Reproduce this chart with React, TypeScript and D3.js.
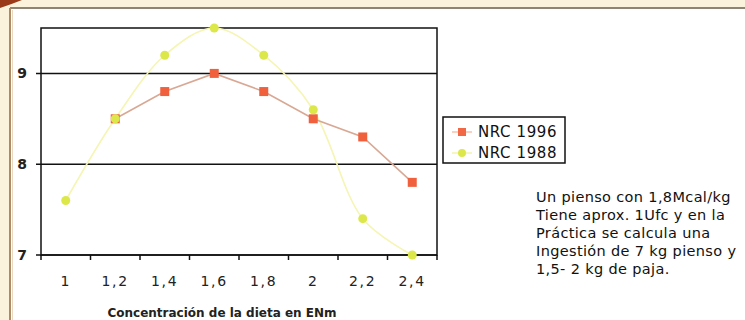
import React from "react";
import * as d3 from "d3";

const categories = ["1", "1,2", "1,4", "1,6", "1,8", "2", "2,2", "2,4"];
const nrc1996: (number | null)[] = [null, 8.5, 8.8, 9.0, 8.8, 8.5, 8.3, 7.8];
const nrc1988: number[] = [7.6, 8.5, 9.2, 9.5, 9.2, 8.6, 7.4, 7.0];
const yTicks = [7, 8, 9];
const seriesNames = ["NRC 1996", "NRC 1988"];
const note = [
  "Un pienso con 1,8Mcal/kg",
  "Tiene aprox. 1Ufc y en la",
  "Práctica se calcula una",
  "Ingestión de 7 kg pienso y",
  "1,5- 2 kg de paja.",
];
const xTitle = "Concentración de la dieta en ENm";

export default function App() {
  const W = 745, H = 320;
  const left = 41, right = 437, top = 28, bottom = 255;
  const x = d3.scaleBand<string>().domain(categories).range([left, right]);
  const y = d3.scaleLinear().domain([7, 9.5]).range([bottom, top]);
  const cx = (c: string) => (x(c) as number) + x.bandwidth() / 2;

  const redPts = categories
    .map((c, i) => ({ c, v: nrc1996[i] }))
    .filter((d) => d.v !== null) as { c: string; v: number }[];
  const yelPts = categories.map((c, i) => ({ c, v: nrc1988[i] }));

  const redLine = d3
    .line<{ c: string; v: number }>()
    .x((d) => cx(d.c))
    .y((d) => y(d.v))(redPts) as string;
  const yelLine = d3
    .line<{ c: string; v: number }>()
    .x((d) => cx(d.c))
    .y((d) => y(d.v))
    .curve(d3.curveCatmullRom.alpha(0.5))(yelPts) as string;

  const font = "'DejaVu Sans', Verdana, sans-serif";
  const ticksBetween = d3.range(categories.length + 1).map((i) => left + i * x.bandwidth());

  return (
    <svg width={W} height={H} style={{ position: "absolute", left: 0, top: 0, background: "#ffffff" }}>
      <defs>
        <filter id="soft" x="-50%" y="-50%" width="200%" height="200%">
          <feGaussianBlur stdDeviation="0.7" />
        </filter>
      </defs>
      {/* outer frame */}
      <rect x={0} y={0} width={W} height={8} fill="#fbf3dc" />
      <rect x={0} y={0} width={9} height={H} fill="#fbf3dc" />
      <path d="M0,0 L22,0 Q12,4 0,8 Z" fill="#9a3a18" />
      <line x1={10} y1={8} x2={W} y2={8} stroke="#8f8576" strokeWidth={2} />
      <line x1={10} y1={8} x2={10} y2={H} stroke="#b08a64" strokeWidth={2} />
      <line x1={12.5} y1={10} x2={12.5} y2={H} stroke="#e8d8c0" strokeWidth={1} />

      {/* plot border */}
      <rect x={left} y={top} width={right - left} height={bottom - top} fill="none" stroke="#111" strokeWidth={1.5} />
      {/* gridlines */}
      {yTicks.map((t) => (
        <g key={t}>
          <line x1={left - 5} x2={right} y1={y(t)} y2={y(t)} stroke="#111" strokeWidth={1.5} />
          <text x={27} y={y(t)} dy="0.36em" textAnchor="end" fontFamily={font} fontWeight="bold" fontSize={14} fill="#222">
            {t}
          </text>
        </g>
      ))}
      {/* x ticks */}
      {ticksBetween.map((tx, i) => (
        <line key={i} x1={tx} x2={tx} y1={bottom} y2={bottom + 5} stroke="#111" strokeWidth={1.5} />
      ))}
      {categories.map((c) => (
        <text key={c} x={cx(c)} y={286} textAnchor="middle" fontFamily={font} fontSize={14} letterSpacing={1.8} fill="#222">
          {c}
        </text>
      ))}
      <text x={222} y={317} textAnchor="middle" fontFamily={font} fontSize={12} fontWeight="bold" fill="#222">
        {xTitle}
      </text>

      {/* series */}
      <path d={yelLine} fill="none" stroke="#f5f5b4" strokeWidth={1.6} />
      <path d={redLine} fill="none" stroke="#d8a894" strokeWidth={1.6} />
      <g filter="url(#soft)">
        {redPts.map((d) => (
          <rect key={d.c} x={cx(d.c) - 4.5} y={y(d.v) - 4.5} width={9} height={9} fill="#f0603c" />
        ))}
        {yelPts.map((d) => (
          <circle key={d.c} cx={cx(d.c)} cy={y(d.v)} r={4.5} fill="#dce84a" />
        ))}
      </g>

      {/* legend */}
      <rect x={443} y={117} width={122} height={46} fill="#fff" stroke="#111" strokeWidth={1.5} />
      <line x1={452} x2={472} y1={132} y2={132} stroke="#fad0c0" strokeWidth={2} />
      <rect x={458} y={128} width={8} height={8} fill="#f06845" filter="url(#soft)" />
      <line x1={452} x2={472} y1={153} y2={153} stroke="#f6f6c0" strokeWidth={2} />
      <circle cx={462} cy={153} r={4} fill="#dce84a" filter="url(#soft)" />
      {seriesNames.map((s, i) => (
        <text key={s} x={478} y={132 + i * 21} dy="0.36em" fontFamily={font} fontSize={15} letterSpacing={0.6} fill="#111">
          {s}
        </text>
      ))}

      {/* note */}
      {note.map((l, i) => (
        <text key={i} x={536} y={197 + i * 18} dy="0.36em" fontFamily={font} fontSize={14.5} letterSpacing={0.35} fill="#111">
          {l}
        </text>
      ))}
    </svg>
  );
}
